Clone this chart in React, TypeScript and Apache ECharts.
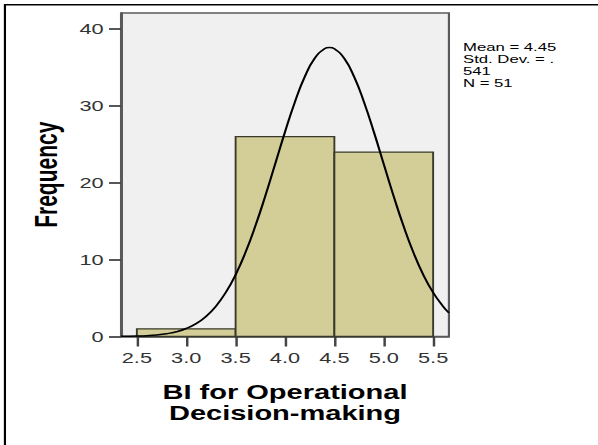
import React, { useEffect, useRef } from "react";
import * as echarts from "echarts";

// Histogram bins
const binStarts = [2.5, 3.5, 4.5];
const binEnds = [3.5, 4.5, 5.5];
const counts = [1, 26, 24];

// Fitted normal curve
const curveX = [2.34, 2.4, 2.5, 2.6, 2.7, 2.8, 2.9, 3.0, 3.1, 3.2, 3.3, 3.4, 3.5, 3.6, 3.7, 3.8, 3.9, 4.0, 4.1, 4.2, 4.3, 4.4, 4.45, 4.5, 4.6, 4.7, 4.8, 4.9, 5.0, 5.1, 5.2, 5.3, 5.4, 5.5, 5.6, 5.66];
const curveY = [0.02, 0.03, 0.06, 0.11, 0.2, 0.36, 0.62, 1.04, 1.67, 2.61, 3.93, 5.72, 8.05, 10.95, 14.39, 18.27, 22.43, 26.61, 30.51, 33.8, 36.19, 37.45, 37.61, 37.45, 36.19, 33.8, 30.51, 26.61, 22.43, 18.27, 14.39, 10.95, 8.05, 5.72, 3.93, 3.08];

const xTicks = [2.5, 3.0, 3.5, 4.0, 4.5, 5.0, 5.5];
const yTicks = [0, 10, 20, 30, 40];
const statsLines = ["Mean = 4.45", "Std. Dev. = .", "541", "N = 51"];
const xTitle = "BI for Operational\nDecision-making";
const yTitle = "Frequency";

const FONT = "'Liberation Sans', Arial, sans-serif";
const W = 412;
const H = 445;
const SX = 598 / W;

export default function App() {
  const ref = useRef<HTMLDivElement>(null);
  useEffect(() => {
    if (!ref.current) return;
    const chart = echarts.init(ref.current, null, { renderer: "svg" });
    const histData = binStarts.map((s, i) => [s, binEnds[i], counts[i]]);
    const curveData = curveX.map((x, i) => [x, curveY[i]]);
    chart.setOption({
      animation: false,
      backgroundColor: "#ffffff",
      grid: {
        left: 83.4,
        right: 102.7,
        top: 13,
        bottom: 108.5,
        show: true,
        backgroundColor: "#f0f0f0",
        borderColor: "#5a5a5a",
        borderWidth: 1.5,
        containLabel: false,
        outerBoundsMode: "none",
      },
      xAxis: {
        type: "value",
        min: 2.34,
        max: 5.66,
        splitLine: { show: false },
        axisLine: { show: true, onZero: false, lineStyle: { color: "#5a5a5a", width: 1.5 } },
        axisTick: {
          show: true,
          customValues: xTicks,
          length: 10,
          lineStyle: { color: "#444", width: 1.7 },
        },
        axisLabel: {
          customValues: xTicks,
          formatter: (v: number) => v.toFixed(1),
          margin: 14,
          fontSize: 15,
          fontFamily: FONT,
          color: "#333",
        },
        name: xTitle,
        nameLocation: "middle",
        nameGap: 45,
        nameTextStyle: {
          fontSize: 20,
          fontWeight: "bold",
          fontFamily: FONT,
          color: "#000",
          lineHeight: 21,
        },
      },
      yAxis: {
        type: "value",
        min: 0,
        max: 42.1,
        splitLine: { show: false },
        axisLine: { show: true, lineStyle: { color: "#5a5a5a", width: 1.5 } },
        axisTick: {
          show: true,
          customValues: yTicks,
          length: 8.3,
          lineStyle: { color: "#444", width: 1.8 },
        },
        axisLabel: {
          customValues: yTicks,
          margin: 12,
          fontSize: 15,
          fontFamily: FONT,
          color: "#333",
        },
        name: yTitle,
        nameLocation: "middle",
        nameGap: 41,
        nameTextStyle: {
          fontSize: 21,
          fontWeight: "bold",
          fontFamily: FONT,
          color: "#000",
        },
      },
      graphic: [
        {
          type: "rect",
          silent: true,
          shape: { x: 3.4, y: 4.8, width: 600, height: 600 },
          style: { fill: "none", stroke: "#000", lineWidth: 1.5 },
          z: 100,
        },
        {
          type: "text",
          x: 319,
          y: 41,
          style: {
            text: statsLines.join("\n"),
            fontSize: 11.5,
            lineHeight: 12,
            fontFamily: FONT,
            fill: "#000",
          },
        },
      ],
      series: [
        {
          type: "custom",
          data: histData,
          encode: { x: [0, 1], y: 2 },
          renderItem: (params: any, api: any) => {
            const p0 = api.coord([api.value(0), api.value(2)]);
            const p1 = api.coord([api.value(1), 0]);
            return {
              type: "rect",
              shape: { x: p0[0], y: p0[1], width: p1[0] - p0[0], height: p1[1] - p0[1] },
              style: { fill: "#d3ce97", stroke: "#3a3a2c", lineWidth: 1.3 },
            };
          },
          z: 3,
        },
        {
          type: "line",
          data: curveData,
          symbol: "none",
          smooth: true,
          lineStyle: { color: "#000", width: 1.5 },
          z: 4,
        },
      ],
    });
    return () => chart.dispose();
  }, []);
  return (
    <div
      style={{
        position: "fixed",
        left: 0,
        top: 0,
        width: 598,
        height: 445,
        overflow: "hidden",
        background: "#fff",
      }}
    >
      <div
        ref={ref}
        style={{
          width: W,
          height: H,
          transform: `scaleX(${SX})`,
          transformOrigin: "0 0",
        }}
      />
    </div>
  );
}
